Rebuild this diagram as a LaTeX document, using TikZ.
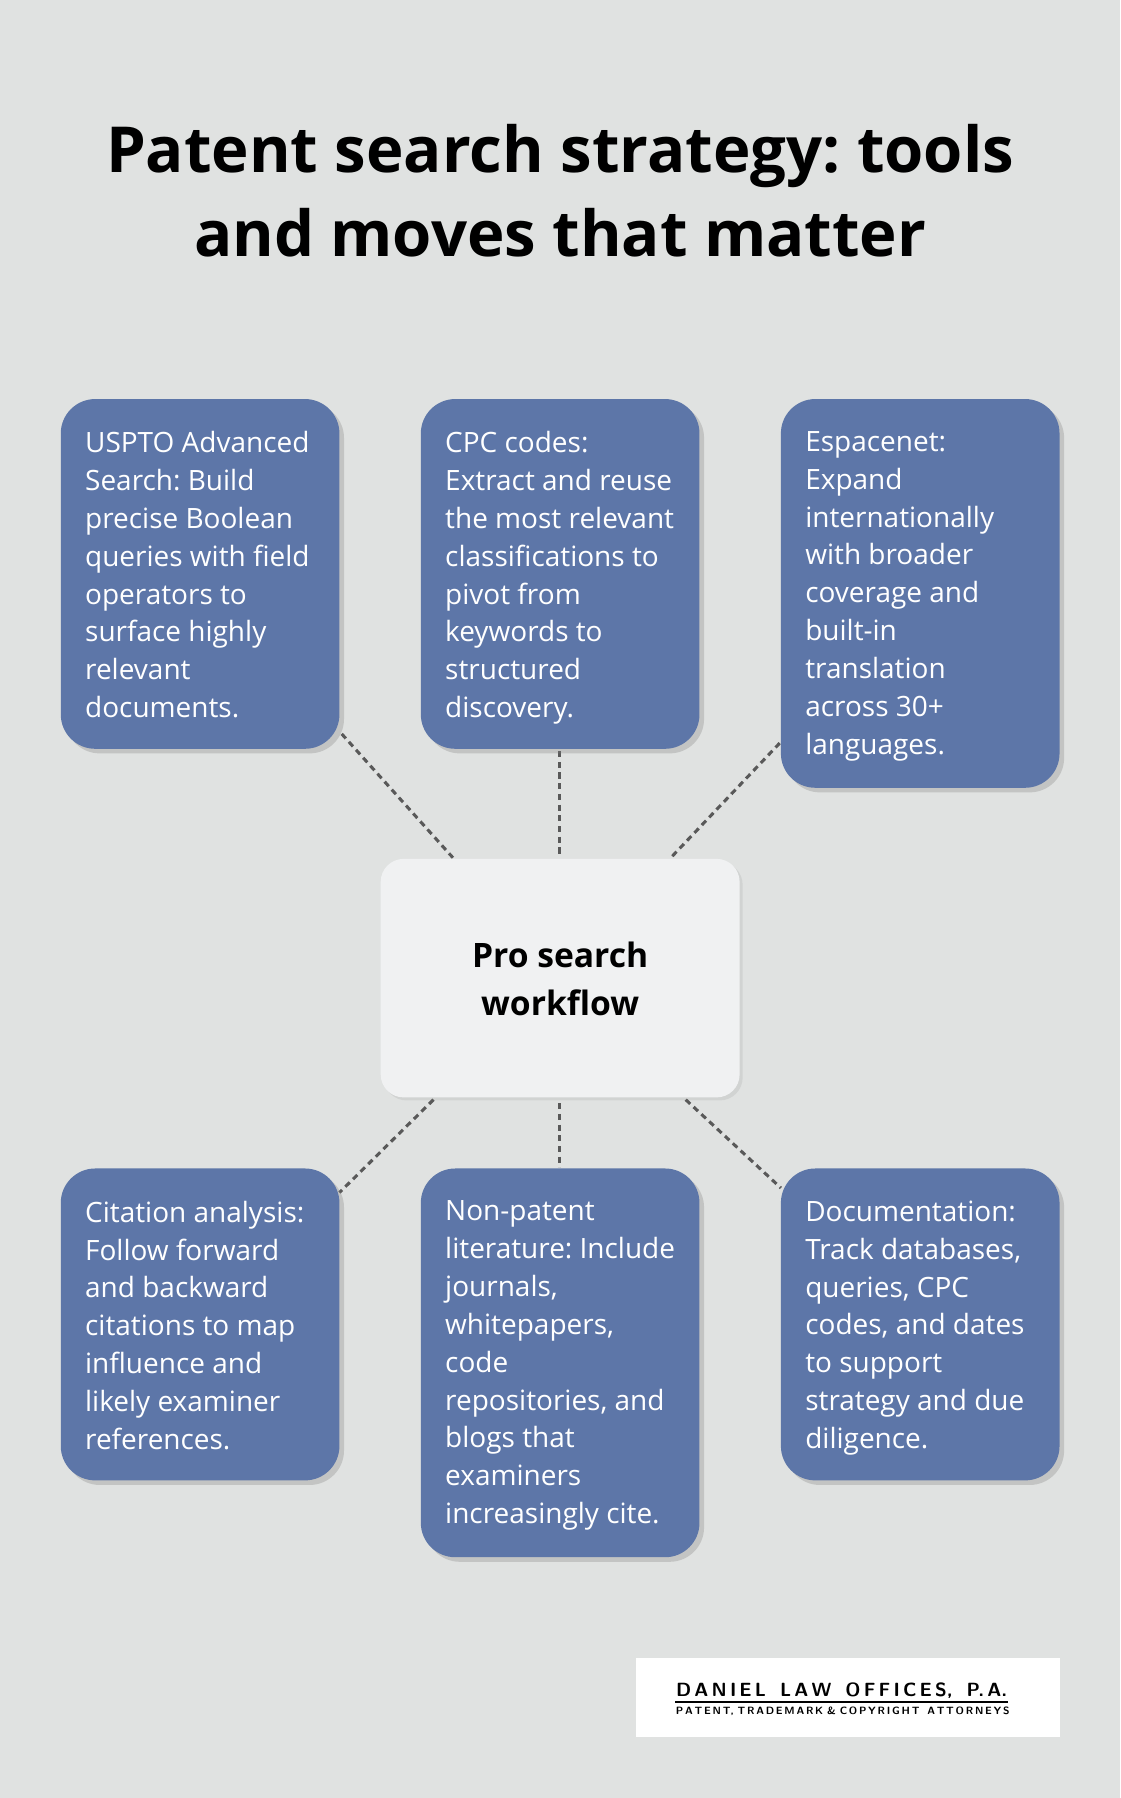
\documentclass[tikz,border=0pt]{standalone}
\usepackage{fontspec}
\setmainfont{Open Sans}
\usetikzlibrary{shadows,calc}
\definecolor{bg}{HTML}{E0E2E1}
\definecolor{boxc}{HTML}{5D76A8}
\definecolor{cen}{HTML}{F0F1F2}
\frenchspacing
\begin{document}
\begin{tikzpicture}[x=0.75pt,y=-0.75pt,
  box/.style={fill=boxc,rounded corners=22.5pt,drop shadow={opacity=0.3,shadow xshift=3pt,shadow yshift=-3pt}},
  txt/.style={anchor=north west,align=left,text=white,font=\fontsize{18.3}{24.75}\selectfont,inner sep=0pt},
  con/.style={draw=black!65,line width=2pt,dash pattern=on 4pt off 3pt}]
\useasboundingbox (0,0) rectangle (977,1568);
\fill[bg] (0,0) rectangle (977,1568);
\node[align=center,font=\fontsize{41.5}{55}\selectfont\bfseries] (title) at (488.5,166) {Patent search strategy: tools\\and moves that matter};
% connectors (under boxes)
\coordinate (a1) at (298,640); \coordinate (a2) at (395,748);
\coordinate (b1) at (488,655); \coordinate (b2) at (488,746);
\coordinate (c1) at (680,648); \coordinate (c2) at (585,748);
\coordinate (d1) at (378,959); \coordinate (d2) at (296,1040);
\coordinate (e1) at (488,962); \coordinate (e2) at (488,1018);
\coordinate (f1) at (598,959); \coordinate (f2) at (681,1036);
\draw[con] (a1)--(a2); \draw[con] (b1)--(b2); \draw[con] (c1)--(c2);
\draw[con] (d1)--(d2); \draw[con] (e1)--(e2); \draw[con] (f1)--(f2);
% boxes
\path[box] (53,348) rectangle (296,653);
\path[box] (367,348) rectangle (610,653);
\path[box] (681,348) rectangle (924,687);
\path[box] (53,1019) rectangle (296,1291);
\path[box] (367,1019) rectangle (610,1358);
\path[box] (681,1019) rectangle (924,1291);
\path[fill=cen,rounded corners=15pt,drop shadow={opacity=0.15,shadow xshift=2pt,shadow yshift=-2pt}] (332,749) rectangle (645,957);
\node[align=center,font=\fontsize{22}{31.5}\selectfont\bfseries] (c) at (488.5,854) {Pro search\\workflow};
\node[txt] (t1) at (74,376) {USPTO Advanced\\Search: Build\\precise Boolean\\queries with field\\operators to\\surface highly\\relevant\\documents.};
\node[txt] (t2) at (388,376) {CPC codes:\\Extract and reuse\\the most relevant\\classifications to\\pivot from\\keywords to\\structured\\discovery.};
\node[txt] (t3) at (702,376) {Espacenet:\\Expand\\internationally\\with broader\\coverage and\\built-in\\translation\\across 30+\\languages.};
\node[txt] (t4) at (74,1047) {Citation analysis:\\Follow forward\\and backward\\citations to map\\influence and\\likely examiner\\references.};
\node[txt] (t5) at (388,1047) {Non-patent\\literature: Include\\journals,\\whitepapers,\\code\\repositories, and\\blogs that\\examiners\\increasingly cite.};
\node[txt] (t6) at (702,1047) {Documentation:\\Track databases,\\queries, CPC\\codes, and dates\\to support\\strategy and due\\diligence.};
% logo
\fill[white] (555,1446) rectangle (924,1515);
\node[font=\fontsize{12.5}{13}\selectfont\sffamily\bfseries] (l1) at (734,1474) {D\,A\,N\,I\,E\,L\ \ L\,A\,W\ \ O\,F\,F\,I\,C\,E\,S,\ \ P.\,A.};
\draw[line width=1.2pt] (589,1484) -- (879,1484);
\node[font=\fontsize{6.9}{7}\selectfont\sffamily\bfseries] (l2) at (735,1492) {P\,A\,T\,E\,N\,T,\ T\,R\,A\,D\,E\,M\,A\,R\,K\ \&\ C\,O\,P\,Y\,R\,I\,G\,H\,T\ \ A\,T\,T\,O\,R\,N\,E\,Y\,S};
\end{tikzpicture}
\end{document}
